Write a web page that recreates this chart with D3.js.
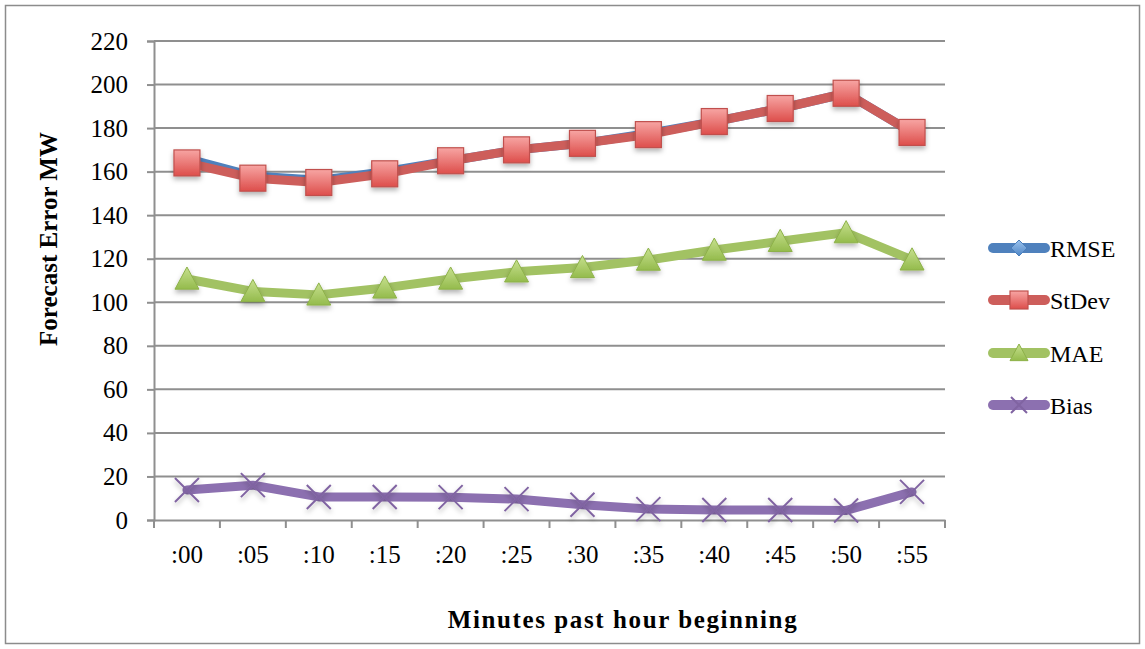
<!DOCTYPE html>
<html><head><meta charset="utf-8">
<script src="https://cdn.jsdelivr.net/npm/d3@7"></script>
<style>body{margin:0;background:#fff}svg{display:block}</style>
</head><body>
<svg id="c" width="1145" height="649"></svg>
<script>
const categories = [":00",":05",":10",":15",":20",":25",":30",":35",":40",":45",":50",":55"];
const rmse  = [166,158,156,160,165,170,173,177.5,183,189,196,178];
const stdev = [164,157,155,159,165,170,173,177,183,189,196,178];
const mae   = [110.7,105,103.4,106.6,110.7,114,116,119.4,124,128,132,119.5];
const bias  = [13.8,16,10.6,10.6,10.5,9.6,7,5,4.6,4.6,4.4,12.9];
const yTicks = [0,20,40,60,80,100,120,140,160,180,200,220];
const seriesNames = ["RMSE","StDev","MAE","Bias"];

const svg = d3.select("#c");
const font = "'Liberation Serif', 'DejaVu Serif', serif";
const L=154, R=945, T=41, B=520;

svg.append("rect").attr("x",5.5).attr("y",5.5).attr("width",1134).attr("height",638)
  .attr("fill","#fff").attr("stroke","#8c8c8c").attr("stroke-width",1.5);

const defs = svg.append("defs");
const gSq = defs.append("linearGradient").attr("id","gsq").attr("x1",0).attr("y1",0).attr("x2",0).attr("y2",1);
gSq.append("stop").attr("offset","0%").attr("stop-color","#f7a5a3");
gSq.append("stop").attr("offset","100%").attr("stop-color","#dd4e4b");
const gTr = defs.append("linearGradient").attr("id","gtr").attr("x1",0).attr("y1",0).attr("x2",0).attr("y2",1);
gTr.append("stop").attr("offset","0%").attr("stop-color","#c7e08f");
gTr.append("stop").attr("offset","100%").attr("stop-color","#94bb4c");
const gDi = defs.append("linearGradient").attr("id","gdi").attr("x1",0).attr("y1",0).attr("x2",0).attr("y2",1);
gDi.append("stop").attr("offset","0%").attr("stop-color","#9cc3ee");
gDi.append("stop").attr("offset","100%").attr("stop-color","#4f86c6");
const sh = defs.append("filter").attr("id","sh").attr("x","-50%").attr("y","-50%").attr("width","200%").attr("height","200%");
sh.append("feDropShadow").attr("dx",0).attr("dy",3).attr("stdDeviation",2.5).attr("flood-color","#000").attr("flood-opacity",0.3);

const x = d3.scaleBand().domain(categories).range([L,R]).padding(0);
const y = d3.scaleLinear().domain([0,220]).range([B,T]);
const cx = d => x(d) + x.bandwidth()/2;

// gridlines
svg.append("g").selectAll("line").data(yTicks.filter(t=>t>0)).join("line")
  .attr("x1",L).attr("x2",R).attr("y1",d=>y(d)).attr("y2",d=>y(d))
  .attr("stroke","#8f8f8f").attr("stroke-width",2);

// y axis
const ya = svg.append("g").attr("transform",`translate(${L},0)`)
  .call(d3.axisLeft(y).tickValues(yTicks).tickSize(7).tickPadding(19));
ya.select(".domain").attr("stroke","#8f8f8f").attr("stroke-width",2);
ya.selectAll(".tick line").attr("stroke","#8f8f8f").attr("stroke-width",2);
ya.selectAll("text").attr("font-family",font).attr("font-size",25).attr("fill","#000");

// x axis
const xa = svg.append("g").attr("transform",`translate(0,${B})`)
  .call(d3.axisBottom(x).tickSize(0).tickPadding(25));
xa.select(".domain").attr("stroke","#8f8f8f").attr("stroke-width",2);
xa.selectAll("text").attr("font-family",font).attr("font-size",25).attr("fill","#000");
xa.append("g").selectAll("line").data(categories.concat(["_end"])).join("line")
  .attr("x1",(d,i)=> L + i*x.bandwidth()).attr("x2",(d,i)=> L + i*x.bandwidth())
  .attr("y1",0).attr("y2",8).attr("stroke","#8f8f8f").attr("stroke-width",2);

const line = d3.line().x((d,i)=>cx(categories[i])).y(d=>y(d));
const colors = {RMSE:"#4f81bd", StDev:"#cd5e5b", MAE:"#a2c263", Bias:"#8c70b0"};
const data = {RMSE:rmse, StDev:stdev, MAE:mae, Bias:bias};

function marker(g, name, px, py, legend){
  if(name==="RMSE"){
    g.append("path").attr("d",`M${px},${py-8}L${px+8},${py}L${px},${py+8}L${px-8},${py}Z`)
      .attr("fill","url(#gdi)").attr("stroke","#4a7ebb").attr("stroke-width",1);
  } else if(name==="StDev"){
    const s = legend?18:26;
    g.append("rect").attr("x",px-s/2).attr("y",py-s/2).attr("width",s).attr("height",s)
      .attr("fill","url(#gsq)").attr("stroke","#c0504d").attr("stroke-width",1.2)
      .attr("filter",legend?null:"url(#sh)");
  } else if(name==="MAE"){
    const s = legend?9:12;
    g.append("path").attr("d",`M${px},${py-s}L${px+s},${py+s*0.85}L${px-s},${py+s*0.85}Z`)
      .attr("fill","url(#gtr)").attr("stroke","#8db149").attr("stroke-width",1)
      .attr("filter",legend?null:"url(#sh)");
  } else {
    const s = legend?8:12;
    g.append("path").attr("d",`M${px-s},${py-s}L${px+s},${py+s}M${px+s},${py-s}L${px-s},${py+s}`)
      .attr("stroke","#8064a2").attr("stroke-width",2).attr("fill","none")
      .attr("filter",legend?null:"url(#sh)");
  }
}

seriesNames.forEach(name=>{
  const g = svg.append("g");
  g.append("path").datum(data[name]).attr("d",line).attr("fill","none")
    .attr("stroke",colors[name]).attr("stroke-width",9).attr("stroke-linejoin","round").attr("stroke-linecap","round");
  data[name].forEach((v,i)=> marker(g,name,cx(categories[i]),y(v),false));
});

// legend
const legY = [248,300,353,405];
seriesNames.forEach((name,i)=>{
  const g = svg.append("g");
  g.append("line").attr("x1",993).attr("x2",1045).attr("y1",legY[i]).attr("y2",legY[i])
    .attr("stroke",colors[name]).attr("stroke-width",10).attr("stroke-linecap","round");
  marker(g,name,1019,legY[i],true);
  g.append("text").attr("x",1050).attr("y",legY[i]+9).text(name)
    .attr("font-family",font).attr("font-size",24).attr("fill","#000");
});

// axis titles
svg.append("text").attr("transform","translate(57,239) rotate(-90)").attr("text-anchor","middle")
  .attr("font-family",font).attr("font-weight","bold").attr("font-size",25).text("Forecast Error MW");
svg.append("text").attr("x",623).attr("y",628).attr("text-anchor","middle")
  .attr("font-family",font).attr("font-weight","bold").attr("font-size",25).attr("letter-spacing",1.6)
  .text("Minutes past hour beginning");
</script>
</body></html>
